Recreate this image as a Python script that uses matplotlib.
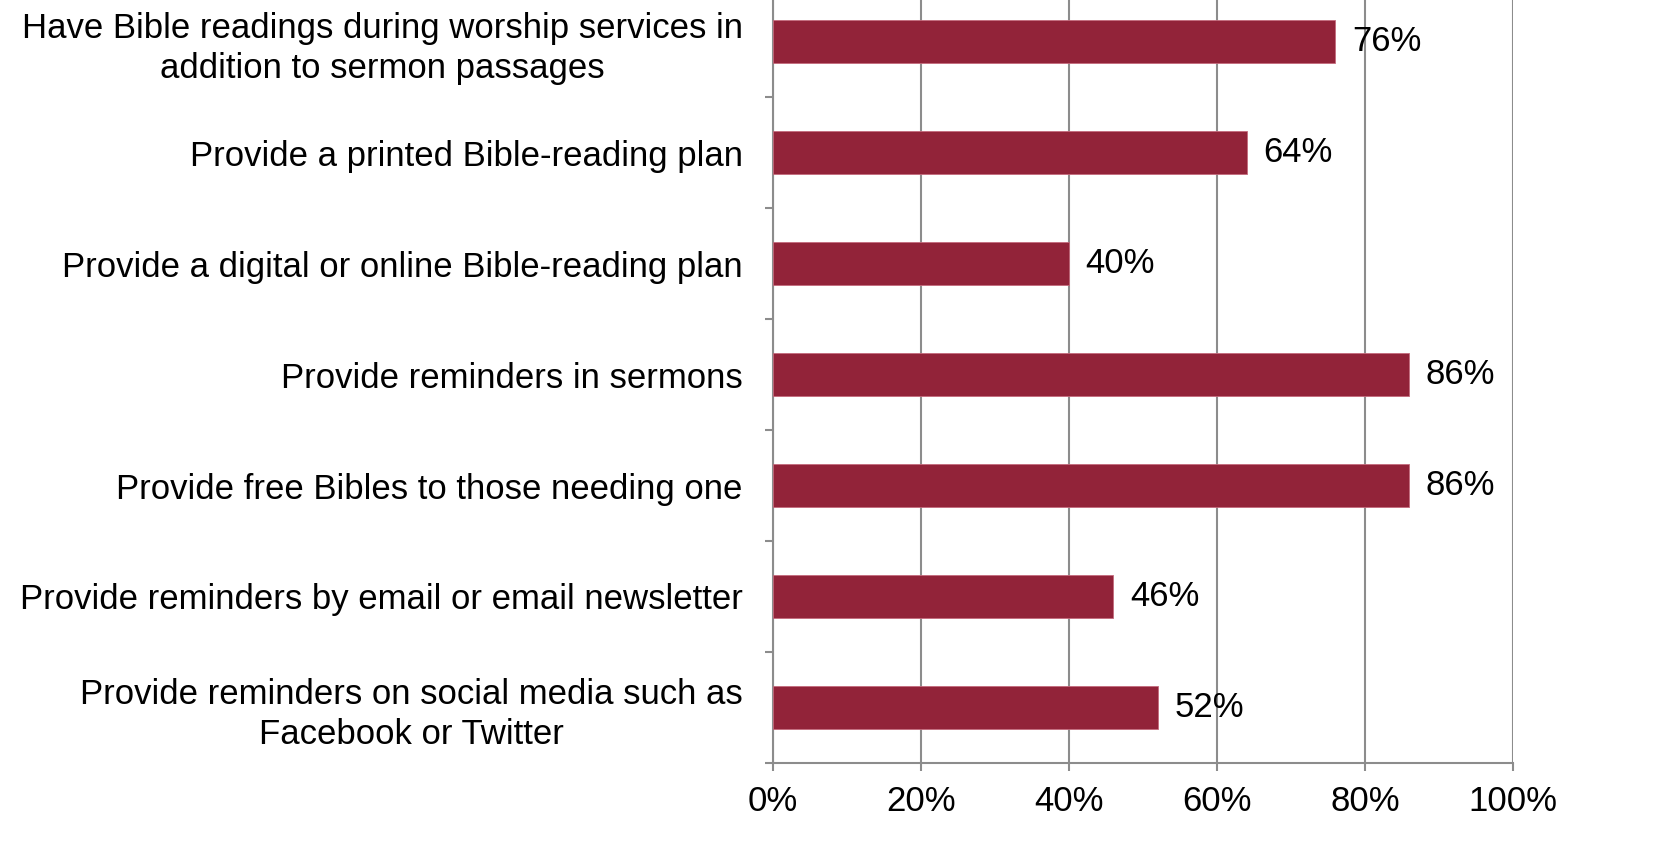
import matplotlib.pyplot as plt
from matplotlib.ticker import MultipleLocator, PercentFormatter

plt.rcParams['font.family'] = ['Liberation Sans', 'DejaVu Sans']

labels = [
    'Have Bible readings during worship services in\naddition to sermon passages',
    'Provide a printed Bible-reading plan',
    'Provide a digital or online Bible-reading plan',
    'Provide reminders in sermons',
    'Provide free Bibles to those needing one',
    'Provide reminders by email or email newsletter',
    'Provide reminders on social media such as\nFacebook or Twitter',
]
values = [76, 64, 40, 86, 86, 46, 52]

bar_color = '#922339'
grid_color = '#8c8c8c'
fs = 25


def main():
    fig = plt.figure(figsize=(16.6, 8.67), dpi=100)
    ax = fig.add_axes([0.4657, 0.12, 0.4458, 0.896])

    pos = list(range(len(labels)))
    ax.barh(pos, values, height=0.39, color=bar_color,
            edgecolor='#c46a7c', linewidth=0.6, zorder=3)
    for p, v in zip(pos, values):
        ax.text(v + 2.2, p, f'{v}%', va='center', ha='left', fontsize=fs, zorder=4)

    ax.set_xlim(0, 100)
    ax.set_ylim(len(labels) - 0.5, -0.5)
    ax.xaxis.set_major_locator(MultipleLocator(20))
    ax.xaxis.set_major_formatter(PercentFormatter(decimals=0))
    ax.grid(axis='x', color=grid_color, linewidth=1.5, zorder=0)

    # category ticks sit on the boundaries, labels in the middle
    ax.set_yticks([p + 0.5 for p in pos], minor=False)
    ax.set_yticklabels([])
    ax.set_yticks(pos, minor=True)
    ax.set_yticklabels(labels, minor=True, fontsize=fs, ha='right',
                       multialignment='center', linespacing=1.28)
    ax.tick_params(axis='y', which='minor', length=0, pad=22)
    ax.tick_params(axis='y', which='major', length=5.8, width=1.5, color=grid_color)
    ax.tick_params(axis='x', length=5.8, width=1.5, color=grid_color,
                   labelsize=fs, pad=10)

    for side in ['top', 'right']:
        ax.spines[side].set_visible(False)
    for side in ['left', 'bottom']:
        ax.spines[side].set_color(grid_color)
        ax.spines[side].set_linewidth(1.5)

    fig.savefig('out.png')


if __name__ == '__main__':
    main()
